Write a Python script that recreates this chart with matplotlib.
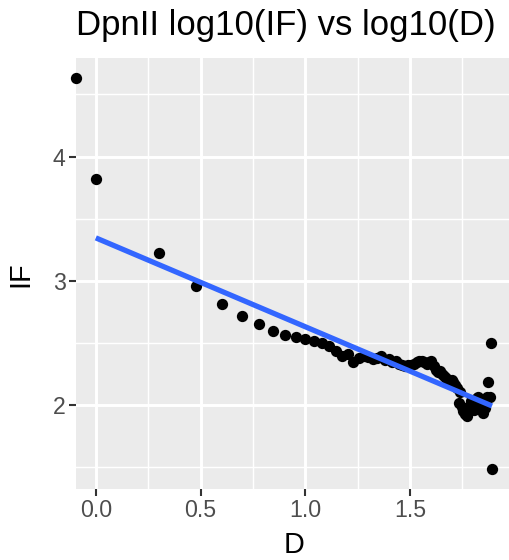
import numpy as np
import matplotlib
matplotlib.use("Agg")
import matplotlib.pyplot as plt
from matplotlib.ticker import MultipleLocator

plt.rcParams['font.family'] = ['Liberation Sans', 'DejaVu Sans']

# distance (0 -> log10 gives -inf) and log10 of interaction frequency
dist = np.arange(0, 79)
IF = [4.634,
      3.815, 3.221, 2.956, 2.811, 2.717, 2.653, 2.597, 2.562, 2.545, 2.532,
      2.515, 2.495, 2.470, 2.430, 2.395, 2.410, 2.340, 2.375, 2.395, 2.385,
      2.370, 2.375, 2.390, 2.360, 2.365, 2.340, 2.350, 2.330, 2.320, 2.310,
      2.320, 2.315, 2.330, 2.345, 2.355, 2.350, 2.340, 2.330, 2.345, 2.350,
      2.310, 2.280, 2.260, 2.270, 2.245, 2.230, 2.215, 2.190, 2.175, 2.200,
      2.185, 2.160, 2.130, 2.010, 2.100, 1.980, 1.950, 1.920, 1.905, 1.960,
      1.990, 2.030, 1.970, 1.960, 2.000, 2.050, 2.060, 2.010, 1.990, 1.960,
      1.930, 1.970, 2.040, 2.060, 2.180, 2.060, 2.500, 1.477]
title = "DpnII log10(IF) vs log10(D)"
x_ticks = [0.0, 0.5, 1.0, 1.5]
x_tick_labels = ["0.0", "0.5", "1.0", "1.5"]
y_ticks = [2, 3, 4]
y_tick_labels = ["2", "3", "4"]

with np.errstate(divide='ignore'):
    x = np.log10(dist.astype(float))
y = np.array(IF)

W, H = 509, 560
fig = plt.figure(figsize=(W / 100, H / 100), dpi=100)
fig.patch.set_facecolor('white')

finite = np.isfinite(x)
xmin, xmax = x[finite].min(), x[finite].max()
ymin, ymax = y.min(), y.max()
xr, yr = xmax - xmin, ymax - ymin
xlim = (xmin - 0.05 * xr, xmax + 0.05 * xr)
ylim = (ymin - 0.05 * yr, ymax + 0.05 * yr)

left_px, top_px, bottom_px = 76, 58.3, 489
right_px = left_px + (xlim[1] - xlim[0]) * 209.4
ax = fig.add_axes([left_px / W, 1 - bottom_px / H,
                   (right_px - left_px) / W, (bottom_px - top_px) / H])
ax.set_facecolor('#EBEBEB')
for s in ax.spines.values():
    s.set_visible(False)
ax.set_xlim(xlim)
ax.set_ylim(ylim)

ax.xaxis.set_minor_locator(MultipleLocator(0.25))
ax.yaxis.set_minor_locator(MultipleLocator(0.5))
ax.set_xticks(x_ticks)
ax.set_xticklabels(x_tick_labels)
ax.set_yticks(y_ticks)
ax.set_yticklabels(y_tick_labels)
ax.grid(which='major', color='white', linewidth=2.1)
ax.grid(which='minor', color='white', linewidth=1.05)
ax.set_axisbelow(True)
ax.tick_params(which='major', length=5, width=1.5, color='#333333',
               labelsize=16.7, labelcolor='#4D4D4D', pad=2.5)
ax.tick_params(which='minor', length=0)

# -inf plotted at the panel edge (as ggplot does)
xp = np.where(np.isfinite(x), x, xlim[0])
ax.scatter(xp, y, s=66, color='black', zorder=3, linewidths=0, clip_on=False)

coef = np.polyfit(x[finite], y[finite], 1)
xx = np.linspace(xmin, xmax, 100)
ax.plot(xx, np.polyval(coef, xx), color='#3366FF', linewidth=3.8, zorder=4,
        solid_capstyle='butt')

fig.text((left_px + right_px) / 2 / W, 1 - 545 / H, "D", fontsize=20.8,
         ha='center', va='center')
fig.text(20 / W, 1 - 273.7 / H, "IF", fontsize=20.8, ha='center',
         va='center', rotation=90)
fig.text(left_px / W, 1 - 35 / H, title, fontsize=25, ha='left',
         va='baseline')

fig.savefig("out.png", dpi=100)
